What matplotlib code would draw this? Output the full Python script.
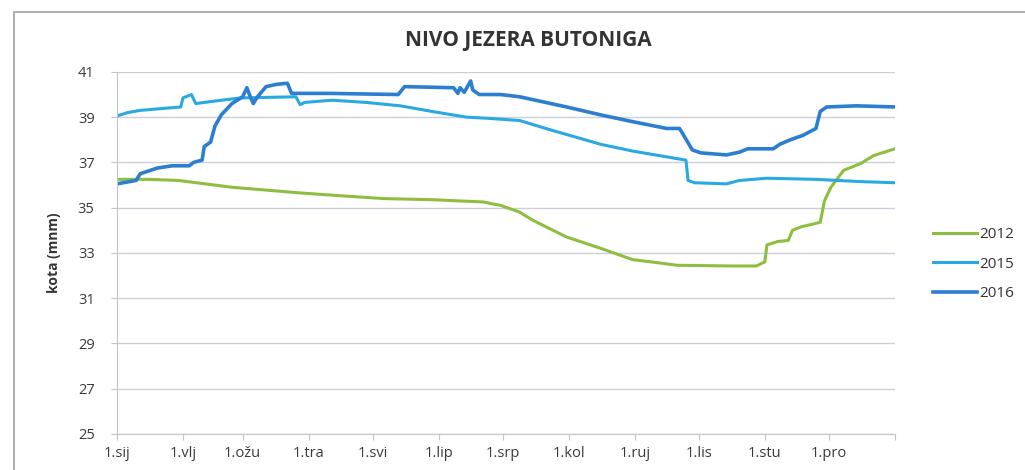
import matplotlib
matplotlib.use("Agg")
import matplotlib.pyplot as plt
import matplotlib.patches as patches

# month labels and first-day positions (day of year)
month_labels = ["1.sij", "1.vlj", "1.ožu", "1.tra", "1.svi", "1.lip",
                "1.srp", "1.kol", "1.ruj", "1.lis", "1.stu", "1.pro"]
month_days = [0, 31, 59, 90, 120, 151, 181, 212, 243, 273, 304, 334]

# 2012
days_2012 = [0, 15, 29, 54, 86, 101, 125, 148, 172, 177, 180, 189, 195, 211, 227,
             242, 255, 263, 289, 300, 304, 305, 310, 315, 317, 321, 330, 332, 335,
             341, 349, 355, 365]
level_2012 = [36.25, 36.25, 36.2, 35.9, 35.65, 35.55, 35.4, 35.35, 35.25, 35.15,
              35.1, 34.8, 34.45, 33.7, 33.2, 32.7, 32.55, 32.45, 32.42, 32.42,
              32.6, 33.35, 33.5, 33.55, 34.0, 34.15, 34.35, 35.3, 35.9, 36.65,
              36.95, 37.3, 37.6]

# 2015
days_2015 = [0, 5, 11, 30, 31, 35, 37, 45, 58, 84, 86, 88, 101, 117, 133, 148, 164,
             174, 189, 203, 227, 242, 267, 268, 271, 286, 292, 305, 328, 349, 365]
level_2015 = [39.05, 39.2, 39.3, 39.45, 39.85, 40.0, 39.6, 39.7, 39.85, 39.9, 39.55,
              39.65, 39.75, 39.65, 39.5, 39.25, 39.0, 38.95, 38.85, 38.45, 37.8,
              37.5, 37.1, 36.2, 36.1, 36.05, 36.2, 36.3, 36.25, 36.15, 36.1]

# 2016
days_2016 = [0, 9, 11, 19, 26, 34, 36, 40, 41, 44, 46, 49, 54, 59, 61, 62, 64,
             66, 70, 75, 80, 82, 100, 132, 135, 158, 160, 161, 163, 166, 167,
             170, 180, 189, 211, 227, 242, 258, 264, 270, 274, 286, 292, 296,
             308, 311, 316, 322, 328, 330, 333, 347, 365]
level_2016 = [36.05, 36.2, 36.5, 36.75, 36.85, 36.85, 37.0, 37.1, 37.7, 37.9,
              38.6, 39.1, 39.6, 39.9, 40.3, 40.05, 39.6, 39.9, 40.35, 40.45,
              40.5, 40.05, 40.05, 40.0, 40.35, 40.3, 40.05, 40.3, 40.1, 40.6,
              40.2, 40.0, 40.0, 39.9, 39.45, 39.1, 38.8, 38.5, 38.5, 37.55,
              37.42, 37.33, 37.45, 37.6, 37.6, 37.8, 38.0, 38.2, 38.5, 39.25,
              39.45, 39.5, 39.45]

plt.rcParams['font.family'] = ['Open Sans', 'DejaVu Sans']

fig = plt.figure(figsize=(10.25, 4.7), dpi=100)
ax = fig.add_axes([0.114, 0.077, 0.759, 0.770])

ax.plot(days_2012, level_2012, color='#8DBE3F', lw=2.2, label='2012')
ax.plot(days_2015, level_2015, color='#29A9E1', lw=2.2, label='2015')
ax.plot(days_2016, level_2016, color='#2B7ED0', lw=2.6, label='2016')

ax.set_xlim(0, 365)
ax.set_ylim(25, 41)
ax.set_yticks(range(25, 42, 2))
ax.set_xticks(month_days + [365])
ax.set_xticklabels(month_labels + [""])
ax.grid(axis='y', color='#cdcddc', lw=1)
ax.set_axisbelow(True)
for s in ['top', 'right']:
    ax.spines[s].set_visible(False)
for s in ['left', 'bottom']:
    ax.spines[s].set_color('#c4c4cc')
ax.tick_params(axis='both', colors='#c4c4cc', labelcolor='#3a3a3a',
               labelsize=10.5, length=4)
ax.tick_params(axis='y', pad=12)
ax.tick_params(axis='x', pad=5)
ax.set_ylabel('kota (mnm)', fontsize=10, fontweight='bold', color='#333333',
              labelpad=12)

fig.text(0.515, 0.913, 'NIVO JEZERA BUTONIGA', ha='center', va='center',
         fontsize=15, fontweight='bold', color='#333333')

fig.legend(loc='center left', bbox_to_anchor=(0.897, 0.438), frameon=False,
           fontsize=11, handlelength=2.9, handletextpad=0.1, labelspacing=0.95,
           labelcolor='#333333')

# outer chart-area border
fig.patches.append(patches.Rectangle((14 / 1025, -0.05), 1.2, 1 - 12 / 470 + 0.05,
                                     transform=fig.transFigure, fill=False,
                                     edgecolor='#a0a0a0', lw=1.2))

fig.savefig('out.png', dpi=100)
